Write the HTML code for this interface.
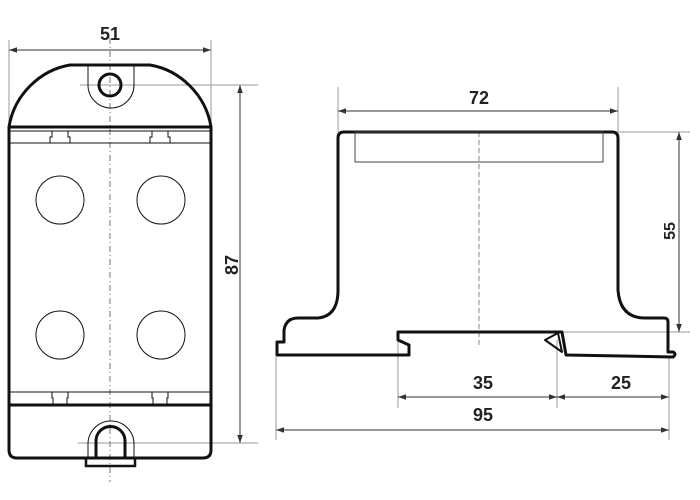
<!DOCTYPE html>
<html><head><style>html,body{margin:0;padding:0;background:#fff}svg{display:block}text{font-family:"Liberation Sans",Arial,sans-serif;font-weight:bold;fill:#222}</style></head>
<body>
<svg width="700" height="500" viewBox="0 0 700 500" xmlns="http://www.w3.org/2000/svg">
<defs>
<marker id="a" viewBox="0 0 10 10" refX="10" refY="5" markerWidth="10" markerHeight="8" orient="auto-start-reverse" markerUnits="userSpaceOnUse"><path d="M0,1.5 L10,5 L0,8.5 Z" fill="#333"/></marker>
</defs>
<g fill="none" stroke="#999" stroke-width="1">
<!-- left view extension lines -->
<line x1="9" y1="40" x2="9" y2="127"/>
<line x1="211" y1="40" x2="211" y2="127"/>
<line x1="80" y1="85" x2="258" y2="85"/>
<line x1="78" y1="443" x2="258" y2="443"/>
<!-- right view ext -->
<line x1="338" y1="87" x2="338" y2="132"/>
<line x1="618" y1="87" x2="618" y2="132"/>
<line x1="618" y1="132" x2="690" y2="132"/>
<line x1="563" y1="332" x2="690" y2="332"/>
<line x1="398" y1="332" x2="398" y2="408"/>
<line x1="557" y1="340" x2="557" y2="408"/>
<line x1="669" y1="357" x2="669" y2="440"/>
<line x1="276" y1="357" x2="276" y2="440"/>
</g>
<g stroke="#333" stroke-width="1" fill="none">
<line x1="9" y1="50" x2="211" y2="50" marker-start="url(#a)" marker-end="url(#a)"/>
<line x1="240" y1="85" x2="240" y2="443" marker-start="url(#a)" marker-end="url(#a)"/>
<line x1="338" y1="111" x2="618" y2="111" marker-start="url(#a)" marker-end="url(#a)"/>
<line x1="679" y1="132" x2="679" y2="332" marker-start="url(#a)" marker-end="url(#a)"/>
<line x1="398" y1="397" x2="557" y2="397" marker-start="url(#a)" marker-end="url(#a)"/>
<line x1="557" y1="397" x2="669" y2="397" marker-start="url(#a)" marker-end="url(#a)"/>
<line x1="276" y1="430" x2="669" y2="430" marker-start="url(#a)" marker-end="url(#a)"/>
</g>
<!-- center lines -->
<g stroke="#777" stroke-width="1" stroke-dasharray="6,3,1,3" fill="none">
<line x1="110" y1="38" x2="110" y2="482"/>
</g>
<line x1="479" y1="132" x2="479" y2="348" stroke="#888" stroke-width="1" stroke-dasharray="5,3"/>
<!-- left view body -->
<g fill="none" stroke="#111">
<path d="M9,127 C14,95 40,70 70,65 L150,65 C180,70 206,95 211,127 L211,450 Q211,458 203,458 L17,458 Q9,458 9,450 Z" stroke-width="3"/>
<line x1="9" y1="127" x2="211" y2="127" stroke-width="3"/>
<line x1="9" y1="405" x2="211" y2="405" stroke-width="3"/>
<g stroke-width="1">
<line x1="9" y1="131" x2="211" y2="131"/>
<line x1="9" y1="143" x2="211" y2="143"/>
<line x1="9" y1="392" x2="211" y2="392"/>
<path d="M52,131 V137 H50 V143 M68,131 V137 H70 V143 M152,131 V137 H150 V143 M168,131 V137 H170 V143"/>
<path d="M52,392 V398 H53 V405 M68,392 V398 H67 V405 M152,392 V398 H153 V405 M168,392 V398 H167 V405"/>
<path d="M88,65 V85 A22,22 0 0 0 134,85 V65"/>
<path d="M88,458 V444 A23,23 0 0 1 134,444 V458"/>
<circle cx="60" cy="200" r="24"/><circle cx="161" cy="200" r="24"/>
<circle cx="60" cy="335" r="24"/><circle cx="161" cy="335" r="24"/>
</g>
<circle cx="110" cy="85" r="11" stroke-width="3"/>
<path d="M96,458 V441 A14.5,14.5 0 0 1 125,441 V458" stroke-width="3"/>
<rect x="86" y="458" width="49" height="8" stroke-width="2.5"/>
</g>
<!-- right view body -->
<g fill="none" stroke="#111" stroke-width="3" stroke-linejoin="round">
<path d="M338,290 V138 Q338,132 344,132 L612,132 Q618,132 618,138 V290 Q620,318 645,318 L664,318 Q668,318 668,322 V352 L673,352 Q677,354 673,357 L566,355 L562,332 L398,332 V340 L409,345 V355 L277,355 V342 H284 V330 Q286,318 298,318 L318,318 Q338,316 338,290"/>
<path d="M545,340 L558,333 L562,352 Z" stroke-width="2"/>
</g>
<rect x="355" y="132" width="248" height="30" fill="none" stroke="#444" stroke-width="1"/>
<!-- labels -->
<text x="110" y="40" font-size="18" text-anchor="middle">51</text>
<text x="479" y="104" font-size="18" text-anchor="middle">72</text>
<text x="483" y="389" font-size="18" text-anchor="middle">35</text>
<text x="621" y="389" font-size="18" text-anchor="middle">25</text>
<text x="483" y="421" font-size="18" text-anchor="middle">95</text>
<text transform="translate(238,265) rotate(-90)" font-size="18" text-anchor="middle">87</text>
<text transform="translate(675,231) rotate(-90)" font-size="16" text-anchor="middle" font-weight="normal">55</text>
</svg>
</body></html>
